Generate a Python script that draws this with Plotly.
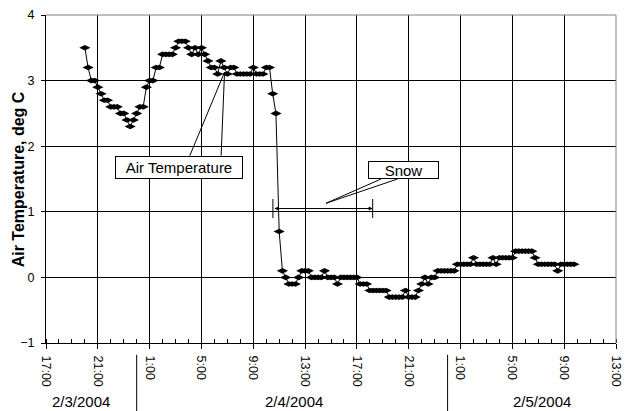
import pandas as pd
import plotly.graph_objects as go

# ---------------- data ----------------
start_time = "2004-02-03 20:00"
interval = "15min"
air_temp = [
    3.5, 3.2, 3.0, 3.0, 2.9, 2.8, 2.7, 2.7, 2.6, 2.6,
    2.6, 2.5, 2.5, 2.4, 2.3, 2.4, 2.5, 2.6, 2.6, 2.9,
    3.0, 3.0, 3.2, 3.2, 3.4, 3.4, 3.4, 3.4, 3.5, 3.6,
    3.6, 3.6, 3.5, 3.4, 3.5, 3.4, 3.5, 3.4, 3.3, 3.2,
    3.2, 3.1, 3.3, 3.2, 3.1, 3.2, 3.2, 3.1, 3.1, 3.1,
    3.1, 3.1, 3.2, 3.1, 3.1, 3.1, 3.2, 3.2, 2.8, 2.5,
    0.7, 0.1, 0.0, -0.1, -0.1, -0.1, 0.0, 0.1, 0.1, 0.1,
    0.0, 0.0, 0.0, 0.0, 0.1, 0.0, 0.0, 0.0, -0.1, 0.0,
    0.0, 0.0, 0.0, 0.0, 0.0, -0.1, -0.1, -0.1, -0.2, -0.2,
    -0.2, -0.2, -0.2, -0.2, -0.3, -0.3, -0.3, -0.3, -0.3, -0.2,
    -0.3, -0.3, -0.3, -0.2, -0.1, 0.0, -0.1, 0.0, 0.0, 0.1,
    0.1, 0.1, 0.1, 0.1, 0.1, 0.2, 0.2, 0.2, 0.2, 0.2,
    0.3, 0.2, 0.2, 0.2, 0.2, 0.2, 0.3, 0.2, 0.3, 0.3,
    0.3, 0.3, 0.3, 0.4, 0.4, 0.4, 0.4, 0.4, 0.4, 0.3,
    0.2, 0.2, 0.2, 0.2, 0.2, 0.2, 0.1, 0.2, 0.2, 0.2,
    0.2, 0.2,
]
times = pd.date_range(start_time, periods=len(air_temp), freq=interval)

x_range = ["2004-02-03 17:00", "2004-02-05 13:00"]
y_range = [-1, 4]
y_ticks = [-1, 0, 1, 2, 3, 4]
day_labels = ["2/3/2004", "2/4/2004", "2/5/2004"]
day_label_pos = ["2004-02-03 19:40", "2004-02-04 12:10", "2004-02-05 07:15"]
day_breaks = ["2004-02-04 00:00", "2004-02-05 00:00"]
y_title = "Air Temperature, deg C"

series_label = "Air Temperature"
series_label_pos = ("2004-02-04 03:15", 1.68)
series_leader_from = [("2004-02-04 04:06", 1.855), ("2004-02-04 06:31", 1.855)]
series_leader_to = ("2004-02-04 06:47", 3.13)

snow_label = "Snow"
snow_label_pos = ("2004-02-04 20:36", 1.64)
snow_leader_from = [("2004-02-04 18:52", 1.5), ("2004-02-04 20:08", 1.5)]
snow_leader_to = ("2004-02-04 14:37", 1.13)
snow_start, snow_end = "2004-02-04 10:31", "2004-02-04 18:13"
snow_level = 1.05
snow_bar_span = (0.905, 1.195)

FONT = "Liberation Sans, Arial, sans-serif"

fig = go.Figure()
fig.add_trace(go.Scatter(
    x=times, y=air_temp, mode="lines+markers",
    line=dict(color="black", width=1),
    marker=dict(symbol="diamond-wide", size=8, color="black"),
    showlegend=False, hoverinfo="skip",
))

shapes = []
for (lx, ly) in series_leader_from:
    shapes.append(dict(type="line", xref="x", yref="y", x0=lx, y0=ly,
                       x1=series_leader_to[0], y1=series_leader_to[1],
                       line=dict(color="black", width=1)))
for (lx, ly) in snow_leader_from:
    shapes.append(dict(type="line", xref="x", yref="y", x0=lx, y0=ly,
                       x1=snow_leader_to[0], y1=snow_leader_to[1],
                       line=dict(color="black", width=1)))
for t in (snow_start, snow_end):
    shapes.append(dict(type="line", xref="x", yref="y", x0=t, x1=t,
                       y0=snow_bar_span[0], y1=snow_bar_span[1],
                       line=dict(color="black", width=1)))
for t in day_breaks:
    shapes.append(dict(type="line", xref="x", yref="paper", x0=t, x1=t,
                       y0=-0.036, y1=-0.21, line=dict(color="black", width=1)))
shapes.append(dict(type="line", xref="paper", yref="paper", x0=0, x1=1, y0=1, y1=1,
                   line=dict(color="#808080", width=1), layer="above"))
shapes.append(dict(type="line", xref="paper", yref="paper", x0=1, x1=1, y0=0, y1=1,
                   line=dict(color="#808080", width=1), layer="above"))

annotations = []
annotations.append(dict(
    x=series_label_pos[0], y=series_label_pos[1], xref="x", yref="y",
    text=series_label, showarrow=False, font=dict(family=FONT, size=15, color="black"),
    bgcolor="white", bordercolor="black", borderwidth=1, borderpad=2,
    width=122, height=17,
))
annotations.append(dict(
    x=snow_label_pos[0], y=snow_label_pos[1], xref="x", yref="y",
    text=snow_label, showarrow=False, font=dict(family=FONT, size=15, color="black"),
    bgcolor="white", bordercolor="black", borderwidth=1, borderpad=1,
    width=67, height=14,
))
annotations.append(dict(
    x=snow_end, y=snow_level, ax=snow_start, ay=snow_level,
    xref="x", yref="y", axref="x", ayref="y", text="",
    showarrow=True, arrowhead=2, arrowside="end+start", arrowsize=0.8,
    arrowwidth=1, arrowcolor="black", standoff=0, startstandoff=0,
))
for lab, pos in zip(day_labels, day_label_pos):
    annotations.append(dict(
        x=pos, y=-0.179, xref="x", yref="paper", text=lab, showarrow=False,
        font=dict(family=FONT, size=15, color="black"),
        xanchor="center", yanchor="middle",
    ))
annotations.append(dict(
    x=-0.0485, y=0.5, xref="paper", yref="paper", text="<b>" + y_title + "</b>",
    textangle=-90, showarrow=False, font=dict(family=FONT, size=16, color="black"),
    xanchor="center", yanchor="middle",
))

fig.update_layout(
    width=631, height=411,
    margin=dict(l=46, r=8, t=15, b=68),
    paper_bgcolor="white", plot_bgcolor="white",
    font=dict(family=FONT, size=12.5, color="black"),
    shapes=shapes, annotations=annotations,
    showlegend=False,
)
fig.update_xaxes(
    type="date", range=x_range,
    tick0=x_range[0], dtick=4 * 3600 * 1000, tickformat="%-H:%M",
    tickangle=90, ticks="outside", ticklen=5, tickcolor="black",
    ticklabelstandoff=4,
    showgrid=True, gridcolor="black", gridwidth=1,
    showline=True, linecolor="black", linewidth=1,
    minor=dict(dtick=3600 * 1000, ticks="inside", ticklen=4, tickcolor="black", showgrid=False),
    tickfont=dict(family=FONT, size=12.5, color="black"),
)
fig.update_yaxes(
    range=y_range, tickvals=y_ticks,
    ticks="outside", ticklen=4, tickcolor="black", ticklabelstandoff=4,
    showgrid=True, gridcolor="black", gridwidth=1, zeroline=False,
    showline=True, linecolor="black", linewidth=1,
    tickfont=dict(family=FONT, size=12.5, color="black"),
)

fig.write_html(
    "out.html",
    config={"displayModeBar": False},
    post_script="document.body.style.margin='0';document.body.style.overflow='hidden';",
)
